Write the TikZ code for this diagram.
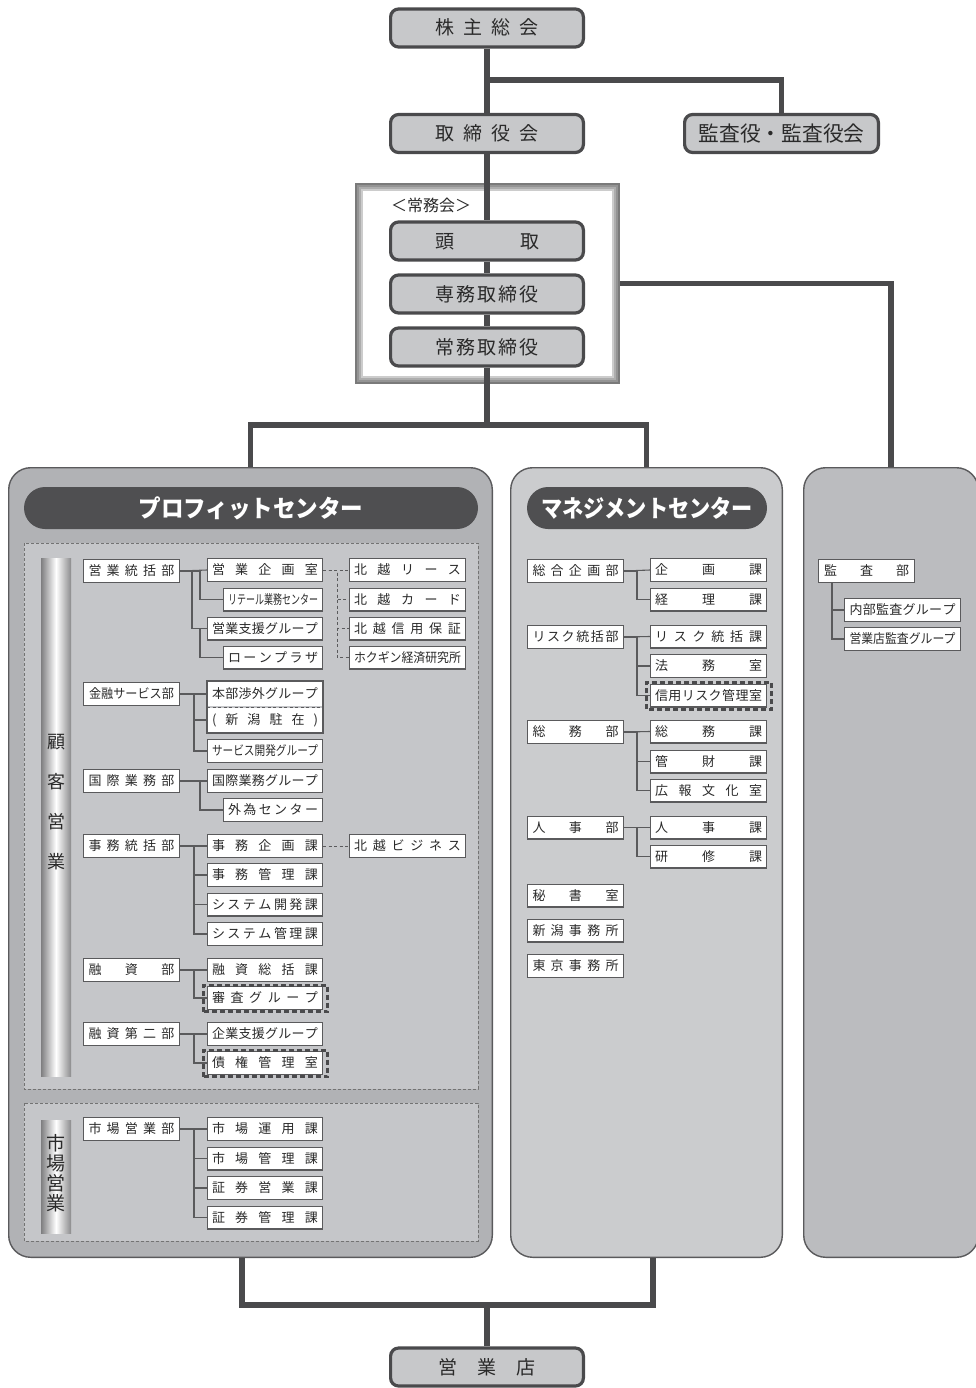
\documentclass[tikz,border=0pt]{standalone}
\usepackage{fontspec}
\setmainfont{Noto Sans CJK JP}
\usepackage{graphicx}
\usetikzlibrary{calc}
\definecolor{dk}{HTML}{4A4A4C}
\definecolor{topfill}{HTML}{C7C8CA}
\definecolor{bd}{HTML}{5A5A5C}
\definecolor{pfill}{HTML}{B1B2B5}
\definecolor{pinner}{HTML}{C5C6C9}
\definecolor{mfill}{HTML}{CBCCCE}
\definecolor{afill}{HTML}{BBBCBF}
\definecolor{pillc}{HTML}{4F4F51}
\definecolor{barD}{HTML}{7E7E80}
\definecolor{txt}{HTML}{2A2A2A}
\def\sprdloop#1#2{#1\ifx\relax#2\else\hfill\expandafter\sprdloop\expandafter#2\fi}
\newcommand\SPR[2]{\makebox[#1pt][s]{\sprdloop#2\relax}}
\newcommand\CZZ[2]{\resizebox{#1pt}{\height}{#2}}
\begin{document}
\begin{tikzpicture}[x=1pt,y=-1pt,
  tl/.style={draw=dk,line width=5.5pt},
  topbox/.style={draw=dk,line width=3.2pt,fill=topfill,rounded corners=8pt,minimum width=192.8pt,minimum height=38pt,inner sep=0pt,font=\fontsize{19}{19}\selectfont,text height=16pt,text depth=2pt,text=txt},
  sbox/.style={draw=bd,line width=1.3pt,fill=white,minimum height=22.7pt,inner sep=0pt,font=\fontsize{13}{13}\selectfont,text height=10.9pt,text depth=1.3pt,text=txt},
  wl/.style={sbox,minimum width=95.7pt},
  wm/.style={sbox,minimum width=114.7pt},
  wi/.style={sbox,minimum width=98.7pt},
  wr/.style={sbox,minimum width=115.7pt},
  cl/.style={draw=bd,line width=1.1pt},
  dl/.style={draw=bd,line width=0.9pt,dash pattern=on 3pt off 2.5pt},
  kd/.style={draw=dk,line width=3.2pt,dash pattern=on 5pt off 3pt},
  panel/.style={draw=bd,line width=1.4pt,rounded corners=22pt,inner sep=0pt,minimum height=789.6pt},
  pillst/.style={fill=pillc,rounded corners=21pt,minimum height=42pt,inner sep=0pt,text=white,font=\fontsize{24}{24}\selectfont\bfseries},
  region/.style={draw=black!55,line width=0.8pt,dash pattern=on 3pt off 2pt,fill=pinner}
]
\useasboundingbox (0,0) rectangle (976,1388);

% ---------- panels ----------
\node[panel,fill=pfill,minimum width=483.6pt] (profit) at (250.5,862.5) {};
\node[panel,fill=mfill,minimum width=271.6pt] (mgmt) at (646.5,862.5) {};
\node[panel,fill=afill,minimum width=174.6pt] (audit) at (891,862.5) {};

\node[pillst,minimum width=454pt] (phd) at (251,508) {\CZZ{225}{プロフィットセンター}};
\node[pillst,minimum width=240pt] (mhd) at (647,508) {\CZZ{212}{マネジメントセンター}};

\draw[region] (24,543) rectangle (478,1089);
\draw[region] (24,1103) rectangle (478,1241);

\shade[left color=barD,right color=barD!90,middle color=white] (41,558) rectangle (71,1076);
\shade[left color=barD,right color=barD!90,middle color=white] (41,1120) rectangle (71,1233);
\node[font=\fontsize{18}{40}\selectfont,align=center,text=txt,inner sep=0pt] (kokyaku) at (56,802) {顧\\客\\営\\業};
\node[font=\fontsize{19}{20}\selectfont,align=center,text=txt,inner sep=0pt] (shijo) at (56,1173) {市\\場\\営\\業};

% ---------- top ----------
\node[minimum width=265pt,minimum height=201pt,inner sep=0pt,outer sep=0pt,fill=black!52] (jf) at (487.5,283.5) {};
\fill[black!42] ($(jf.south west)+(2,-2)$) rectangle ($(jf.north east)+(-2,2)$);
\fill[black!32] ($(jf.south west)+(4,-4)$) rectangle ($(jf.north east)+(-4,4)$);
\fill[black!20] ($(jf.south west)+(6,-6)$) rectangle ($(jf.north east)+(-6,6)$);
\fill[white] ($(jf.south west)+(8,-8)$) rectangle ($(jf.north east)+(-8,8)$);
\node[font=\fontsize{16}{16}\selectfont,text=txt,inner sep=0pt] (jlabel) at (431,205) {＜常務会＞};

\node[topbox] (kabu) at (487,28) {\SPR{104}{株主総会}};
\node[topbox] (tori) at (487,133.5) {\SPR{104}{取締役会}};
\node[topbox,minimum width=193.8pt,text height=17.6pt,text depth=2.1pt] (kansa) at (781.5,133.5) {\CZZ{166}{\fontsize{21}{21}\selectfont 監査役・監査役会}};
\node[topbox] (toudori) at (487,241) {\SPR{104}{頭取}};
\node[topbox] (senmu) at (487,294) {\SPR{104}{専務取締役}};
\node[topbox] (joumu) at (487,347) {\SPR{104}{常務取締役}};
\node[topbox] (eigyo) at (487,1367) {\SPR{98}{営業店}};

\coordinate (j1) at (487,80);
\draw[tl] (kabu.south) -- (tori.north);
\draw[tl] (j1) -| (kansa.north);
\draw[tl] (tori.south) -- (toudori.north);
\draw[tl] (toudori.south) -- (senmu.north);
\draw[tl] (senmu.south) -- (joumu.north);
\draw[tl] (joumu.south) -- ++(0,58) coordinate (j2);
\draw[tl] (profit.north) -- ++(0,-42) -| (mgmt.north);
\draw[tl] (audit.north) |- (jf.east);
\draw[tl] ([xshift=-8.5pt]profit.south) -- ++(0,47) -| ([xshift=6.5pt]mgmt.south);
\draw[tl] (eigyo.north) -- ++(0,-42);

% ---------- profit center ----------
\node[wl] (a1) at (131.5,571) {\SPR{86}{営業統括部}};
\node[wm] (b1) at (265,570) {\SPR{106}{営業企画室}};
\node[wi] (i1) at (273,599.5) {\CZZ{90}{リテール業務センター}};
\node[wm] (b2) at (265,628.5) {\SPR{106}{営業支援グループ}};
\node[wi] (i2) at (273,657.5) {\SPR{90}{ローンプラザ}};
\node[wr] (r1) at (407.5,570) {\SPR{107}{北越リース}};
\node[wr] (r2) at (407.5,599.5) {\SPR{107}{北越カード}};
\node[wr] (r3) at (407.5,628.5) {\SPR{107}{北越信用保証}};
\node[wr] (r4) at (407.5,657.5) {\CZZ{107}{ホクギン経済研究所}};
\draw[cl] (a1.east) -- (b1.west);
\draw[cl] (a1.east) -- ++(20,0) |- (i1.west);
\draw[cl] (a1.east) -- ++(12,0) |- (b2.west);
\draw[cl] (b2.west) -- ++(-7,0) |- (i2.west);
\draw[dl] (b1.east) -- (r1.west);
\draw[dl] (b1.east) -- ++(14,0) |- (r2.west);
\draw[dl] (b1.east) -- ++(14,0) |- (r3.west);
\draw[dl] (b1.east) -- ++(14,0) |- (r4.west);

\node[wl] (a2) at (131.5,694) {\CZZ{85}{金融サービス部}};
\node[wm,draw=none,minimum height=24.8pt] (hb) at (265,694) {\SPR{106}{本部渉外グループ}};
\node[wm,draw=none,minimum height=24.8pt] (ng) at (265,720) {\SPR{106}{(新潟駐在)}};
\draw[draw=bd,line width=1.3pt] (hb.north west) rectangle (ng.south east);
\draw[dl] (hb.south west) -- (hb.south east);
\node[wm] (b3) at (265,751) {\CZZ{106}{サービス開発グループ}};
\draw[cl] (a2.east) -- (hb.west);
\draw[cl] (a2.east) -- ++(14,0) |- (ng.west);
\draw[cl] (a2.east) -- ++(14,0) |- (b3.west);

\node[wl] (a3) at (131.5,781) {\SPR{86}{国際業務部}};
\node[wm] (b4) at (265,781) {\SPR{106}{国際業務グループ}};
\node[wi] (i3) at (273,810) {\SPR{90}{外為センター}};
\draw[cl] (a3.east) -- (b4.west);
\draw[cl] (a3.east) -- ++(20,0) |- (i3.west);

\node[wl] (a4) at (131.5,846) {\SPR{86}{事務統括部}};
\node[wm] (b5) at (265,846) {\SPR{106}{事務企画課}};
\node[wm] (b6) at (265,875) {\SPR{106}{事務管理課}};
\node[wm] (b7) at (265,904.5) {\SPR{106}{システム開発課}};
\node[wm] (b8) at (265,934) {\SPR{106}{システム管理課}};
\node[wr] (r5) at (407.5,846) {\SPR{107}{北越ビジネス}};
\draw[cl] (a4.east) -- (b5.west);
\draw[cl] (a4.east) -- ++(14,0) |- (b6.west);
\draw[cl] (a4.east) -- ++(14,0) |- (b7.west);
\draw[cl] (a4.east) -- ++(14,0) |- (b8.west);
\draw[dl] (b5.east) -- (r5.west);

\node[wl] (a5) at (131.5,970) {\SPR{86}{融資部}};
\node[wm] (b9) at (265,970) {\SPR{106}{融資総括課}};
\node[wm] (b10) at (265,998) {\SPR{106}{審査グループ}};
\draw[kd] ($(b10.south west)+(-3.5,1.8)$) rectangle ($(b10.north east)+(4.5,-0.8)$);
\draw[cl] (a5.east) -- (b9.west);
\draw[cl] (a5.east) -- ++(14,0) |- (b10.west);

\node[wl] (a6) at (131.5,1034) {\SPR{86}{融資第二部}};
\node[wm] (b11) at (265,1034) {\SPR{106}{企業支援グループ}};
\node[wm] (b12) at (265,1063) {\SPR{106}{債権管理室}};
\draw[kd] ($(b12.south west)+(-3.5,1.8)$) rectangle ($(b12.north east)+(4.5,-0.8)$);
\draw[cl] (a6.east) -- (b11.west);
\draw[cl] (a6.east) -- ++(14,0) |- (b12.west);

\node[wl] (a7) at (131.5,1129) {\SPR{86}{市場営業部}};
\node[wm] (b13) at (265,1129) {\SPR{106}{市場運用課}};
\node[wm] (b14) at (265,1158.5) {\SPR{106}{市場管理課}};
\node[wm] (b15) at (265,1188) {\SPR{106}{証券営業課}};
\node[wm] (b16) at (265,1217.5) {\SPR{106}{証券管理課}};
\draw[cl] (a7.east) -- (b13.west);
\draw[cl] (a7.east) -- ++(14,0) |- (b14.west);
\draw[cl] (a7.east) -- ++(14,0) |- (b15.west);
\draw[cl] (a7.east) -- ++(14,0) |- (b16.west);

% ---------- management center ----------
\node[wl] (c1) at (575.5,571) {\SPR{86}{総合企画部}};
\node[wl] (c2) at (575.5,637) {\SPR{86}{リスク統括部}};
\node[wl] (c3) at (575.5,732) {\SPR{86}{総務部}};
\node[wl] (c4) at (575.5,827.5) {\SPR{86}{人事部}};
\node[wl] (c5) at (575.5,895.5) {\SPR{86}{秘書室}};
\node[wl] (c6) at (575.5,930.5) {\SPR{86}{新潟事務所}};
\node[wl] (c7) at (575.5,966) {\SPR{86}{東京事務所}};
\node[wr] (d1) at (708.5,570) {\SPR{107}{企画課}};
\node[wr] (d2) at (708.5,599.5) {\SPR{107}{経理課}};
\node[wr] (d3) at (708.5,636.5) {\SPR{107}{リスク統括課}};
\node[wr] (d4) at (708.5,666) {\SPR{107}{法務室}};
\node[wr] (d5) at (708.5,695.5) {\SPR{107}{信用リスク管理室}};
\draw[kd] ($(d5.south west)+(-3.5,1.8)$) rectangle ($(d5.north east)+(4.5,-0.8)$);
\node[wr] (d6) at (708.5,731.5) {\SPR{107}{総務課}};
\node[wr] (d7) at (708.5,761.5) {\SPR{107}{管財課}};
\node[wr] (d8) at (708.5,790.5) {\SPR{107}{広報文化室}};
\node[wr] (d9) at (708.5,827.5) {\SPR{107}{人事課}};
\node[wr] (d10) at (708.5,856.5) {\SPR{107}{研修課}};
\draw[cl] (c1.east) -- (d1.west);
\draw[cl] (c1.east) -- ++(13,0) |- (d2.west);
\draw[cl] (c2.east) -- (d3.west);
\draw[cl] (c2.east) -- ++(13,0) |- (d4.west);
\draw[cl] (c2.east) -- ++(13,0) |- (d5.west);
\draw[cl] (c3.east) -- (d6.west);
\draw[cl] (c3.east) -- ++(13,0) |- (d7.west);
\draw[cl] (c3.east) -- ++(13,0) |- (d8.west);
\draw[cl] (c4.east) -- (d9.west);
\draw[cl] (c4.east) -- ++(13,0) |- (d10.west);

% ---------- audit ----------
\node[wl] (k) at (866.5,571) {\SPR{85}{監査部}};
\node[wr] (k1) at (902.5,610) {\SPR{106}{内部監査グループ}};
\node[wr] (k2) at (902.5,639) {\CZZ{106}{営業店監査グループ}};
\draw[cl] ([xshift=-34.5pt]k.south) |- (k1.west);
\draw[cl] ([xshift=-34.5pt]k.south) |- (k2.west);
\end{tikzpicture}
\end{document}
